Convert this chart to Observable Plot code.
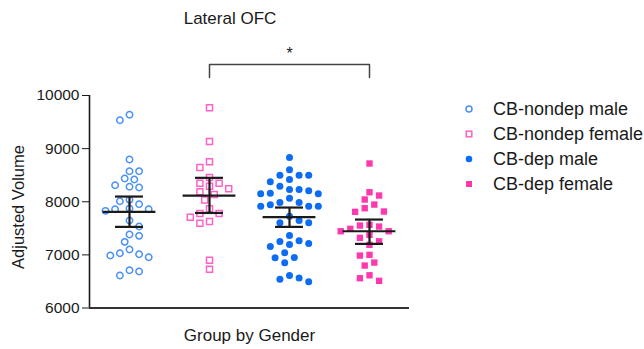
<!DOCTYPE html>
<html>
<head>
<meta charset="utf-8">
<script src="https://cdn.jsdelivr.net/npm/d3@7"></script>
<script src="https://cdn.jsdelivr.net/npm/@observablehq/plot@0.6"></script>
<style>
  html, body { margin: 0; padding: 0; background: #fff; }
  #wrap { position: relative; width: 644px; height: 349px; font-family: "Liberation Sans", Arial, Helvetica, sans-serif; color: #1a1a1a; overflow: hidden; }
  .lbl { position: absolute; white-space: nowrap; line-height: 1; }
</style>
</head>
<body>
<div id="wrap"></div>
<script>
// ---- data ----
const groups = ["CB-nondep male", "CB-nondep female", "CB-dep male", "CB-dep female"];
const nondepMale = [9637, 9535, 8795, 8575, 8575, 8437, 8418, 8311, 8268, 8281, 8036, 8010, 7953, 7859, 7829, 7859, 7872, 7646, 7533, 7383, 7358, 7245, 7030, 6987, 6955, 7012, 7100, 6710, 6611, 6686];
const nondepFemale = [9768, 9134, 8752, 8644, 8456, 8292, 8349, 8349, 8243, 8187, 8136, 8031, 7868, 7778, 7778, 7627, 7595, 7708, 6898, 6729];
const depMale = [8833, 8601, 8499, 8499, 8499, 8375, 8418, 8292, 8230, 8205, 8160, 8230, 8149, 8149, 8066, 7985, 7985, 7942, 7916, 7916, 7916, 7646, 7603, 7603, 7727, 7364, 7264, 7213, 7157, 7194, 7251, 7038, 6944, 6850, 6950, 6567, 6492, 6541, 6611];
const depFemale = [8720, 8179, 8117, 8042, 7947, 7878, 7816, 7810, 7565, 7533, 7552, 7445, 7445, 7490, 7377, 7320, 7256, 7189, 6987, 7000, 6855, 6799, 6616, 6511, 6560];
const means = [7810, 8117, 7710, 7445];
const errLow = [7527, 7789, 7527, 7207];
const errHigh = [8098, 8450, 7891, 7665];
const yTicks = [6000, 7000, 8000, 9000, 10000];
const comparison = [{from: 1, to: 3, label: "*"}];

// ---- styles ----
const colors = ["#4a90f7", "#ff62c6", "#0c6cf2", "#ff38ae"];
const symbols = ["circle", "square", "circle", "square"];
const filled = [false, false, true, true];

const W = 644, H = 349, mL = 89, mR = 235, mT = 95, mB = 41.5;
const yPix = d3.scaleLinear([6000, 10000], [H - mB, mT]);
const bandPx = (W - mL - mR) / 4;

function swarm(vals) {
  const step = 4.8, minD = 8.6;
  const pts = vals.map(v => ({v, py: yPix(v), ox: 0})).sort((a, b) => a.py - b.py);
  const placed = [];
  let flip = 1;
  for (const p of pts) {
    for (let k = 0; k < 60; k++) {
      const m = Math.ceil(k / 2);
      const o = k === 0 ? 0 : (k % 2 ? 1 : -1) * m * step * flip;
      if (placed.every(q => (q.ox - o) ** 2 + (q.py - p.py) ** 2 >= minD * minD)) { p.ox = o; break; }
    }
    placed.push(p);
    flip = -flip;
  }
  return pts;
}

const series = [nondepMale, nondepFemale, depMale, depFemale];
const points = series.flatMap((vals, gi) =>
  swarm(vals).map(p => ({gi, group: groups[gi], value: p.v, x: gi + p.ox / bandPx})));
const stats = groups.map((g, gi) => ({gi, mean: means[gi], lo: errLow[gi], hi: errHigh[gi]}));

// bracket heights above the axis (data units)
const brTop = 10584, brLeg = 10339, starY = 10790;
const bracket = comparison.flatMap(c => [
  {x: c.from, y: brLeg}, {x: c.from, y: brTop}, {x: c.to, y: brTop}, {x: c.to, y: brLeg}]);

const dotMarks = groups.map((g, gi) => Plot.dot(points.filter(d => d.gi === gi), {
  x: "x", y: "value", symbol: () => symbols[gi],
  r: symbols[gi] === "square" ? (filled[gi] ? 3.6 : 3.4) : (filled[gi] ? 3.5 : 3.2),
  fill: filled[gi] ? colors[gi] : "none",
  stroke: filled[gi] ? "none" : colors[gi],
  strokeWidth: 1.5
}));

const ink = "#1a1a1a";
const chart = Plot.plot({
  width: W, height: H, marginLeft: mL, marginRight: mR, marginTop: mT, marginBottom: mB,
  style: {fontFamily: '"Liberation Sans", Arial, Helvetica, sans-serif', fontSize: "15.5px", color: ink, background: "transparent", overflow: "visible"},
  x: {domain: [-0.5, 3.5], axis: null},
  y: {domain: [6000, 10000], ticks: yTicks.length, tickSize: 7, tickPadding: 3, tickFormat: "d", label: null},
  symbol: {type: "identity"},
  marks: [
    Plot.ruleX([-0.5], {stroke: ink, strokeWidth: 1.6}),
    Plot.ruleY([6000], {stroke: "#333", strokeWidth: 1.8}),
    ...dotMarks,
    Plot.ruleY(stats, {y: "mean", x1: d => d.gi - 0.33, x2: d => d.gi + 0.33, stroke: ink, strokeWidth: 2.2}),
    Plot.ruleY(stats, {y: "hi", x1: d => d.gi - 0.175, x2: d => d.gi + 0.175, stroke: ink, strokeWidth: 2.2}),
    Plot.ruleY(stats, {y: "lo", x1: d => d.gi - 0.175, x2: d => d.gi + 0.175, stroke: ink, strokeWidth: 2.2}),
    Plot.ruleX(stats, {x: "gi", y1: "lo", y2: "hi", stroke: ink, strokeWidth: 2.2}),
    Plot.line(bracket, {x: "x", y: "y", stroke: "#444", strokeWidth: 1.5}),
    Plot.text(comparison, {x: d => (d.from + d.to) / 2, y: () => starY, text: "label", fontSize: 16, fill: ink})
  ]
});

const wrap = document.getElementById("wrap");
chart.style.position = "absolute";
chart.style.left = "0px";
chart.style.top = "0px";
wrap.appendChild(chart);

function addLabel(text, cx, cy, fs, extra) {
  const el = document.createElement("div");
  el.className = "lbl";
  el.textContent = text;
  el.style.fontSize = fs + "px";
  el.style.left = cx + "px";
  el.style.top = (cy - 0.49 * fs) + "px";
  el.style.transform = "translateX(-50%)" + (extra || "");
  wrap.appendChild(el);
  return el;
}
addLabel("Lateral OFC", 230, 18.8, 17);
addLabel("Group by Gender", 249.5, 335.5, 17);
const yl = document.createElement("div");
yl.className = "lbl";
yl.textContent = "Adjusted Volume";
yl.style.fontSize = "16.5px";
yl.style.left = "18px";
yl.style.top = "206.5px";
yl.style.transform = "translate(-50%,-50%) rotate(-90deg)";
wrap.appendChild(yl);

// legend
groups.forEach((g, gi) => {
  const cy = 109.3 + gi * 25;
  const sv = document.createElementNS("http://www.w3.org/2000/svg", "svg");
  sv.setAttribute("width", 14); sv.setAttribute("height", 14);
  sv.style.position = "absolute"; sv.style.left = (469.3 - 7) + "px"; sv.style.top = (cy - 7) + "px";
  let shape;
  if (symbols[gi] === "circle") {
    shape = document.createElementNS("http://www.w3.org/2000/svg", "circle");
    shape.setAttribute("cx", 7); shape.setAttribute("cy", 7); shape.setAttribute("r", filled[gi] ? 3.3 : 3.0);
  } else {
    shape = document.createElementNS("http://www.w3.org/2000/svg", "rect");
    const s = filled[gi] ? 6 : 5.6;
    shape.setAttribute("x", 7 - s / 2); shape.setAttribute("y", 7 - s / 2); shape.setAttribute("width", s); shape.setAttribute("height", s);
  }
  shape.setAttribute("fill", filled[gi] ? colors[gi] : "none");
  shape.setAttribute("stroke", filled[gi] ? "none" : colors[gi]);
  shape.setAttribute("stroke-width", 1.5);
  sv.appendChild(shape);
  wrap.appendChild(sv);
  const t = document.createElement("div");
  t.className = "lbl";
  t.textContent = g;
  t.style.fontSize = "18px";
  t.style.left = "493px";
  t.style.top = (cy - 0.49 * 18) + "px";
  wrap.appendChild(t);
});
</script>
</body>
</html>
